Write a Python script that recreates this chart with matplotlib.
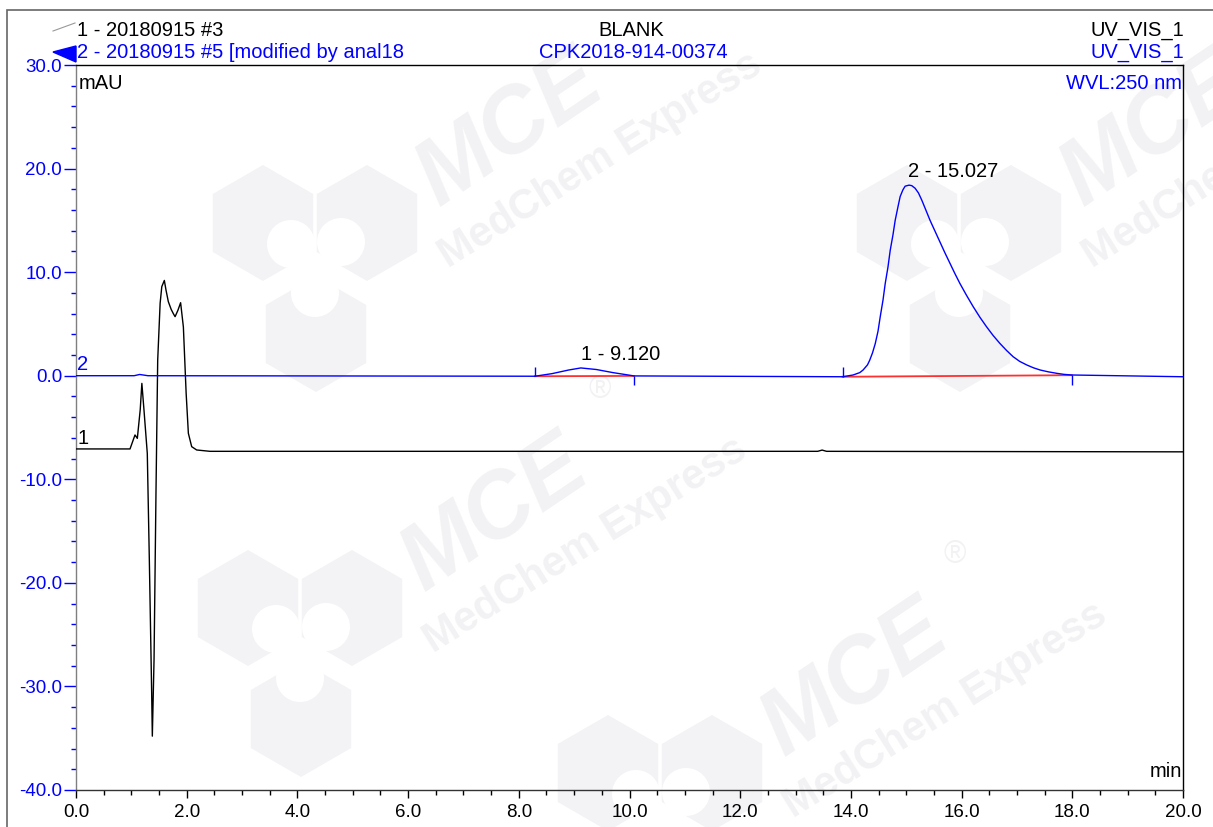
"""Chromatogram overlay: BLANK vs CPK2018-914-00374, UV_VIS_1 at 250 nm."""

import matplotlib

matplotlib.use("Agg")
import matplotlib.pyplot as plt
from matplotlib.patches import Circle, Polygon, Rectangle, RegularPolygon

plt.rcParams["font.family"] = ["Liberation Sans", "DejaVu Sans"]

W, H = 1213, 827
BLUE = "#0000ff"
GREY = "#7f7f7f"
TXT = 14.5
TICK = 13.5

# trace 1 (black): 20180915 #3, BLANK
t_blank = [0.0, 0.976, 1.066, 1.108, 1.16, 1.19, 1.228, 1.288, 1.325, 1.367,
           1.379, 1.41, 1.445, 1.476, 1.52, 1.55, 1.596, 1.626, 1.668, 1.72,
           1.758, 1.79, 1.84, 1.89, 1.94, 1.99, 2.03, 2.09, 2.18, 2.42, 6.0,
           13.40, 13.48, 13.56, 20.0]
v_blank = [-7.07, -7.07, -5.72, -6.05, -3.3, -0.74, -3.3, -7.5, -17.8, -30.6,
           -34.8, -27.4, -11.3, 1.5, 7.0, 8.6, 9.2, 8.27, 7.15, 6.4,
           6.0, 5.7, 6.3, 7.05, 4.7, -1.7, -5.56, -6.85, -7.17, -7.3, -7.3,
           -7.3, -7.18, -7.3, -7.35]

# trace 2 (blue): 20180915 #5, CPK2018-914-00374
t_sample = [0.0, 1.05, 1.15, 1.3, 8.29, 8.6, 8.9, 9.12, 9.4, 9.7, 10.0, 10.08,
            13.85, 14.04, 14.16, 14.22, 14.30, 14.34, 14.39, 14.44, 14.49,
            14.53, 14.58, 14.62, 14.67, 14.71, 14.76, 14.80, 14.85, 14.89,
            14.94, 14.98, 15.05, 15.10, 15.16, 15.22, 15.28, 15.35, 15.43,
            15.52, 15.61, 15.70, 15.79, 15.88, 15.97, 16.09, 16.21, 16.33,
            16.45, 16.57, 16.69, 16.81, 16.93, 17.05, 17.18, 17.30, 17.42,
            17.57, 17.72, 17.85, 17.99, 20.0]
v_sample = [0.0, 0.0, 0.12, 0.0, -0.05, 0.2, 0.55, 0.75, 0.6, 0.3, 0.05, -0.02,
            -0.1, 0.07, 0.3, 0.55, 1.05, 1.5, 2.2, 3.1, 4.3,
            5.7, 7.3, 8.9, 10.5, 12.1, 13.6, 15.0, 16.3, 17.3,
            17.95, 18.3, 18.4, 18.35, 18.1, 17.65, 16.96, 16.05, 15.0,
            13.95, 12.9, 11.85, 10.85, 9.85, 8.9, 7.75, 6.66, 5.65,
            4.73, 3.88, 3.13, 2.45, 1.84, 1.38, 1.03, 0.76, 0.55,
            0.37, 0.23, 0.13, 0.07, -0.1]

# integrated peaks of trace 2
peak_labels = ["1 - 9.120", "2 - 15.027"]
peak_times = [9.120, 15.027]
peak_heights = [0.75, 18.4]
peak_start = [8.29, 13.85]
peak_end = [10.08, 17.99]
base_start = [-0.05, -0.1]
base_end = [-0.02, 0.05]

x_major = [0, 2, 4, 6, 8, 10, 12, 14, 16, 18, 20]
y_major = [-40, -30, -20, -10, 0, 10, 20, 30]


def fx(px):
    return px / W


def fy(py):
    return 1 - py / H


fig = plt.figure(figsize=(W / 100, H / 100), dpi=100)

# faint MCE watermark on its own background axes
wax = fig.add_axes([0, 0, 1, 1], zorder=0)
wax.set_xlim(0, W)
wax.set_ylim(H, 0)
wax.axis("off")
wm_text = "#f2f2f4"
wm_logo = "#f3f3f6"
for dx, dy in [(0, 0), (-15, 385), (345, 550), (644, 0)]:
    for hx, hy in [(263, 223), (367, 223), (316, 334)]:
        wax.add_patch(RegularPolygon((hx + dx, hy + dy), 6, radius=58,
                                     color=wm_logo, lw=0))
    for cx, cy in [(291, 244), (341, 242), (315, 293)]:
        wax.add_patch(Circle((cx + dx, cy + dy), 24, color="white", lw=0))
    wax.text(510 + dx, 130 + dy, "MCE", fontsize=66, fontweight="bold",
             style="italic", color=wm_text, rotation=34, ha="center",
             va="center", clip_on=True)
    wax.text(600 + dx, 160 + dy, "MedChem Express", fontsize=30,
             fontweight="bold", color=wm_text, rotation=32, ha="center",
             va="center", clip_on=True)
for rx, ry in [(600, 390), (955, 555)]:
    wax.text(rx, ry, "®", fontsize=22, color=wm_text, ha="center",
             va="center")

ax = fig.add_axes([fx(76), fy(790), fx(1183) - fx(76), fy(65) - fy(790)],
                  zorder=1)
ax.patch.set_alpha(0)

# outer frame of the report
fig.patches.append(Rectangle((fx(7), -0.1), 1.2, fy(10) + 0.1,
                             transform=fig.transFigure, fill=False,
                             edgecolor="#666666", lw=1.2))

ax.plot(t_blank, v_blank, color="black", lw=1.0, zorder=3)
ax.plot(t_sample, v_sample, color=BLUE, lw=1.0, zorder=4)

for i, lab in enumerate(peak_labels):
    ax.plot([peak_start[i], peak_end[i]], [base_start[i], base_end[i]],
            color="#ff3030", lw=1.3, zorder=3.5)
    ax.vlines(peak_start[i], base_start[i], base_start[i] + 0.9, color=BLUE,
              lw=1.0, zorder=4)
    ax.vlines(peak_end[i], base_end[i] - 0.9, base_end[i], color=BLUE,
              lw=1.0, zorder=4)
    ax.annotate(lab, (peak_times[i], peak_heights[i]), xytext=(0, 3),
                textcoords="offset points", ha="left", va="bottom",
                fontsize=TXT, color="black")

ax.set_xlim(0, 20)
ax.set_ylim(-40, 30)
ax.set_xticks(x_major)
ax.set_xticklabels([f"{v:.1f}" for v in x_major])
ax.set_xticks([x + 0.5 * k for x in x_major[:-1] for k in (1, 2, 3)], minor=True)
ax.set_yticks(y_major)
ax.set_yticklabels([f"{v:.1f}" for v in y_major])
ax.set_yticks([y + 2 * k for y in y_major[:-1] for k in (1, 2, 3, 4)], minor=True)

ax.tick_params(axis="x", which="major", length=6, width=1, color="black",
               labelsize=TICK, pad=4, labelcolor="black")
ax.tick_params(axis="x", which="minor", length=3.6, width=1, color="black")
ax.tick_params(axis="y", which="major", length=9, width=1, color=BLUE,
               labelsize=TICK, pad=1, labelcolor=BLUE)
ax.tick_params(axis="y", which="minor", length=3.6, width=1, color=BLUE)

ax.spines["left"].set_color(GREY)
ax.spines["bottom"].set_color("#333333")
ax.spines["top"].set_color("black")
ax.spines["right"].set_color("black")
for s in ax.spines.values():
    s.set_linewidth(1.0)

# in-plot labels
ax.text(0.002, 0.988, "mAU", transform=ax.transAxes, ha="left", va="top",
        fontsize=TXT)
ax.text(0.999, 0.988, "WVL:250 nm", transform=ax.transAxes, ha="right",
        va="top", fontsize=TXT, color=BLUE)
ax.text(0.999, 0.012, "min", transform=ax.transAxes, ha="right", va="bottom",
        fontsize=TXT)
ax.annotate("2", (0.0, v_sample[0]), xytext=(1, 1), textcoords="offset points",
            ha="left", va="bottom", fontsize=TXT, color=BLUE)
ax.annotate("1", (0.0, v_blank[0]), xytext=(1, 1), textcoords="offset points",
            ha="left", va="bottom", fontsize=TXT, color="black")

# header
fig.text(fx(77), fy(30), "1 - 20180915 #3", ha="left", va="center",
         fontsize=TXT)
fig.text(fx(77), fy(53), "2 - 20180915 #5 [modified by anal18", ha="left",
         va="center", fontsize=TXT, color=BLUE)
fig.text(fx(631), fy(30), "BLANK", ha="center", va="center", fontsize=TXT)
fig.text(fx(633), fy(53), "CPK2018-914-00374", ha="center", va="center",
         fontsize=TXT, color=BLUE)
fig.text(fx(1184), fy(30), "UV_VIS_1", ha="right", va="center", fontsize=TXT)
fig.text(fx(1184), fy(53), "UV_VIS_1", ha="right", va="center", fontsize=TXT,
         color=BLUE)
fig.lines.append(plt.Line2D([fx(53), fx(75)], [fy(31), fy(23)],
                            transform=fig.transFigure, color="#999999", lw=0.8))
fig.patches.append(Polygon([(fx(53), fy(52)), (fx(76), fy(46)),
                            (fx(76), fy(62))], closed=True,
                           transform=fig.transFigure, color=BLUE))

fig.savefig("out.png", dpi=100)
